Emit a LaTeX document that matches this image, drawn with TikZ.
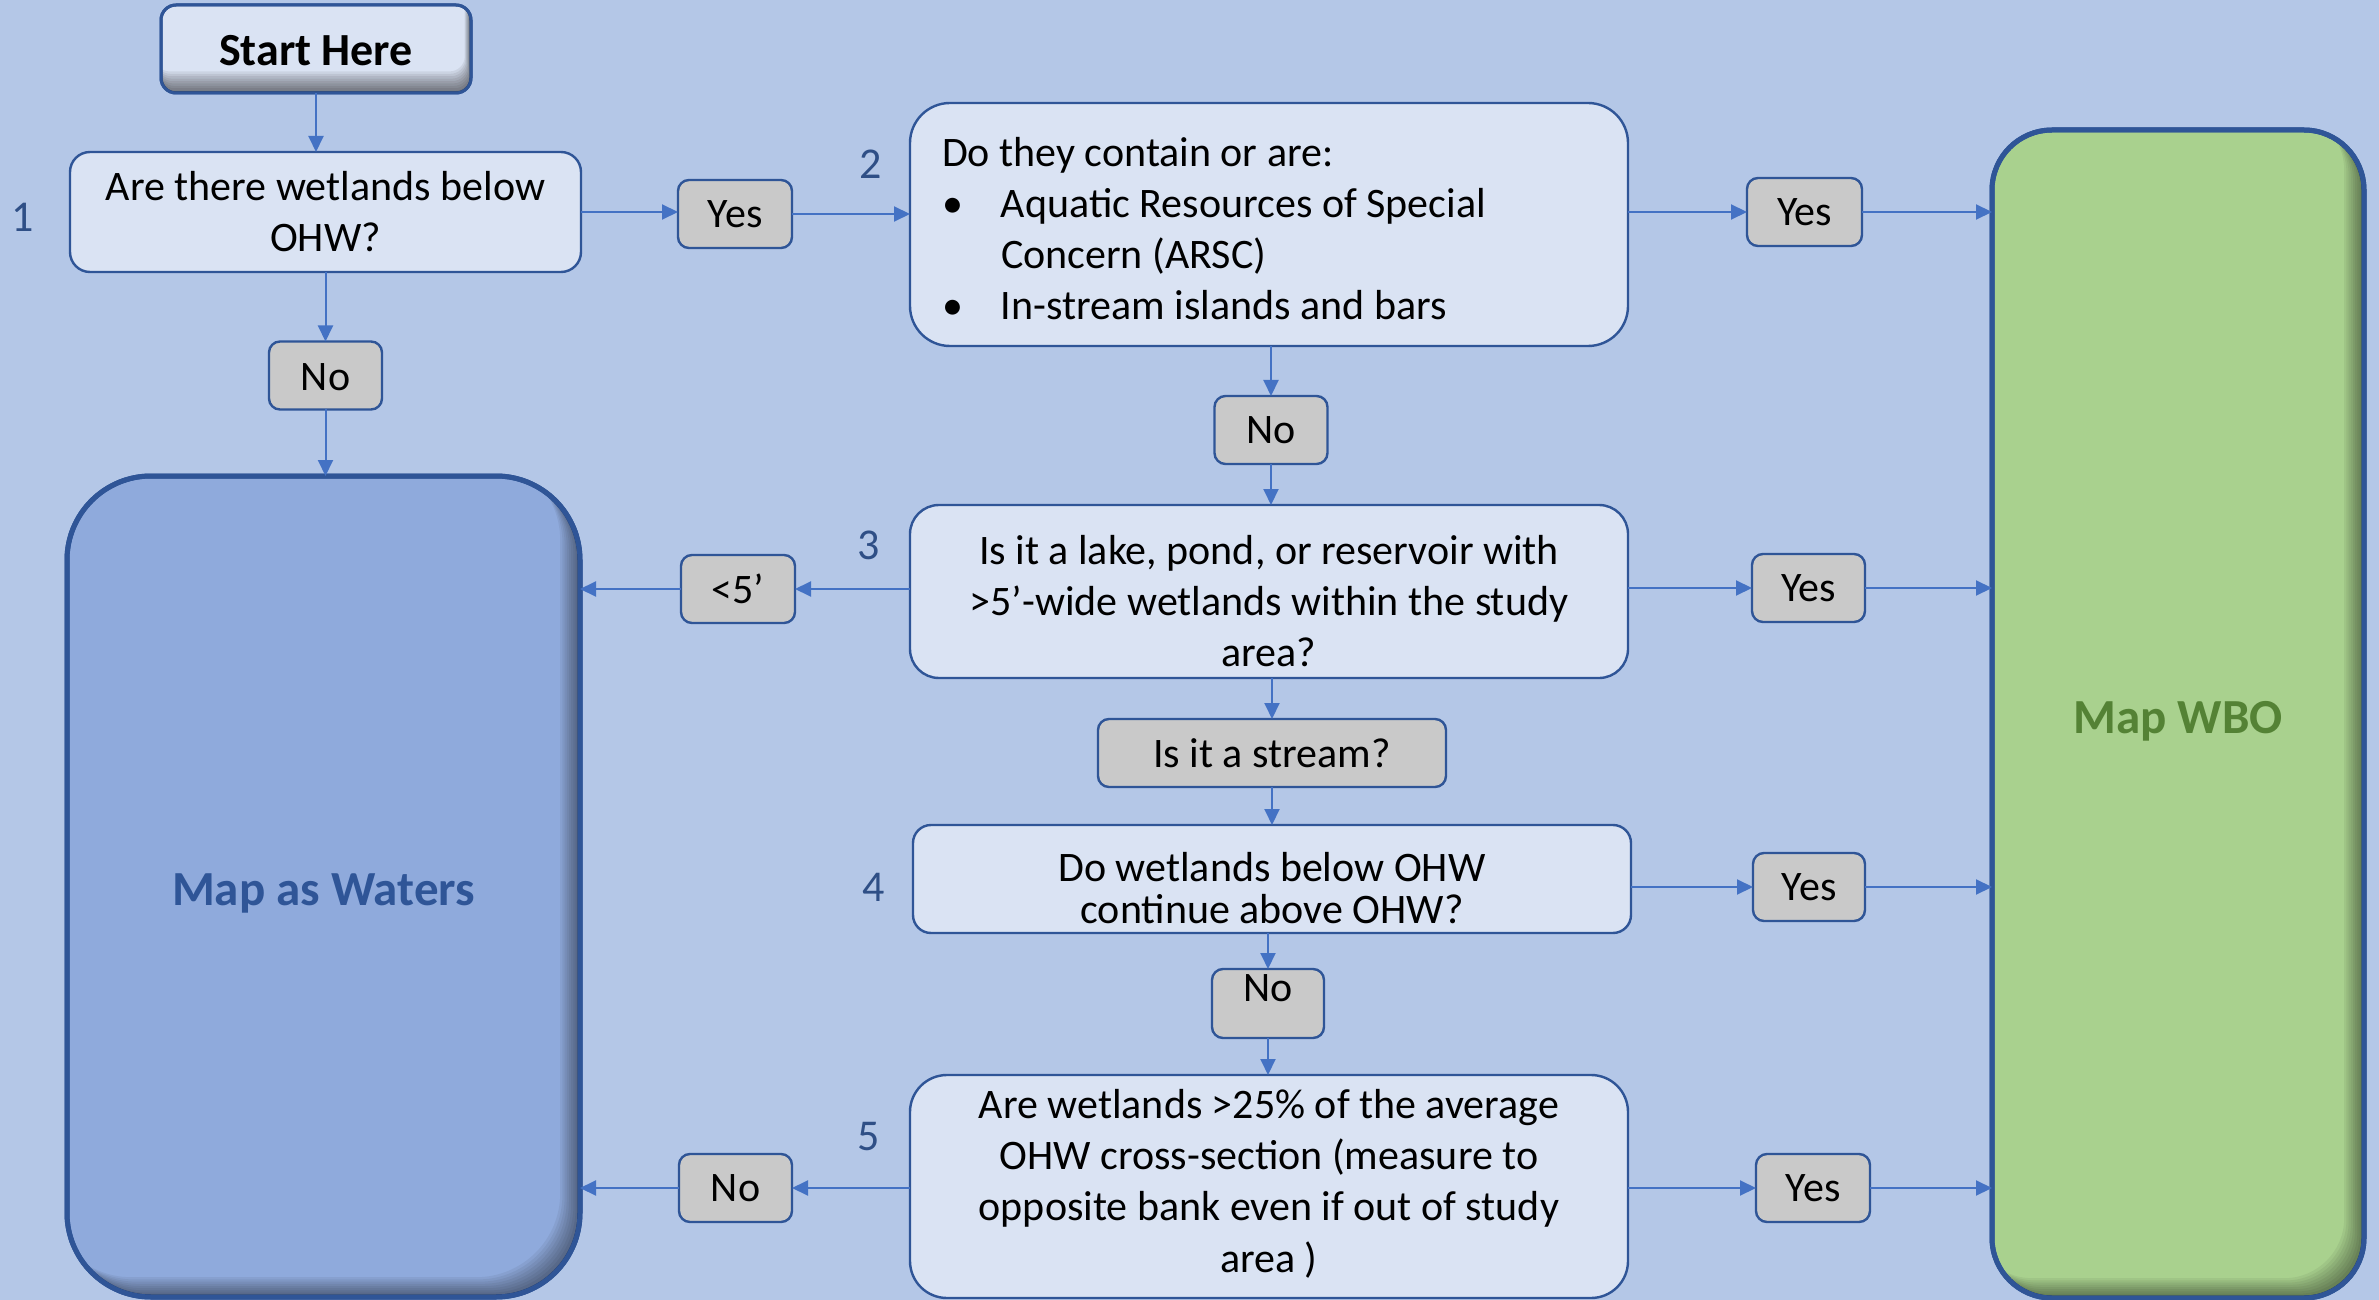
\documentclass[tikz,border=0pt]{standalone}
\usepackage{fontspec}
\setmainfont{Carlito}
\usetikzlibrary{arrows.meta}
\definecolor{bg}{HTML}{B4C7E7}
\definecolor{boxfill}{HTML}{DAE3F3}
\definecolor{bord}{HTML}{2F5597}
\definecolor{arr}{HTML}{4472C4}
\definecolor{lblfill}{HTML}{C9C9C9}
\definecolor{wfill}{HTML}{8FAADC}
\definecolor{gfill}{HTML}{A9D18E}
\definecolor{gtext}{HTML}{548235}
\definecolor{numc}{HTML}{2F4F86}
\newcommand{\shiftedtext}[2]{\raisebox{#1}[\height][\depth]{#2}}
\begin{document}
\begin{tikzpicture}[x=0.5pt,y=-0.5pt,
  every node/.style={outer sep=0pt, inner sep=0pt},
  qbox/.style={draw=bord, line width=1.2pt, fill=boxfill, align=center, font=\fontsize{21}{25.5}\selectfont},
  lab/.style={draw=bord, line width=1.2pt, fill=lblfill, rounded corners=5.5pt, font=\fontsize{21}{25}\selectfont, minimum height=34pt},
  num/.style={text=numc, font=\fontsize{22}{26}\selectfont},
  arrow/.style={draw=arr, line width=1pt, -{Triangle[length=8pt,width=7.5pt]}},
  mapbox/.style={draw=bord, line width=2.5pt, font=\bfseries\fontsize{24.5}{30}\selectfont}
]
\fill[bg] (0,0) rectangle (2379,1300);
\useasboundingbox (0,0) rectangle (2379,1300);

% nodes
\node[qbox, minimum width=155pt, minimum height=44pt, rounded corners=7.5pt, line width=1.5pt, font=\bfseries\fontsize{23}{28}\selectfont] (start) at (316,49) {\shiftedtext{-0.6pt}{Start Here}};
\node[qbox, minimum width=255.5pt, minimum height=60pt, rounded corners=10pt] (q1) at (325.5,212) {Are there wetlands below\\OHW?};
\node[num] (n1) at (23,217) {1};
\node[lab, minimum width=57pt] (y1) at (735,214) {Yes};
\node[qbox, minimum width=359pt, minimum height=121.5pt, rounded corners=20pt] (q2) at (1269,224.5)
  {\shiftedtext{-2.25pt}{\parbox{327pt}{\raggedright
   Do they contain or are:\\
   \makebox[29.5pt][l]{\textbullet}Aquatic Resources of Special\\
   \hspace*{29.5pt}Concern (ARSC)\\
   \makebox[29.5pt][l]{\textbullet}In-stream islands and bars}}};
\node[num] (n2) at (871,164) {2};
\node[lab, minimum width=57.5pt] (y2) at (1804.5,212) {Yes};
\node[mapbox, fill=gfill, text=gtext, minimum width=186pt, minimum height=584pt, rounded corners=30pt] (wbo) at (2178,714) {\shiftedtext{-3.5pt}{Map WBO}};
\node[lab, minimum width=56.5pt] (no1) at (325.5,375.5) {\shiftedtext{-0.8pt}{No}};
\node[mapbox, fill=wfill, text=bord, minimum width=256.5pt, minimum height=410.5pt, rounded corners=42pt] (waters) at (323.5,886.5) {\shiftedtext{-3.5pt}{Map as Waters}};
\node[lab, minimum width=56.5pt] (no2) at (1271,430) {No};
\node[qbox, minimum width=359pt, minimum height=86.5pt, rounded corners=14.5pt] (q3) at (1269,591.5)
  {\shiftedtext{-6.75pt}{\begin{tabular}{@{}c@{}}Is it a lake, pond, or reservoir with\\>5’-wide wetlands within the study\\area?\end{tabular}}};
\node[num] (n3) at (869,545) {3};
\node[lab, minimum width=57pt] (lt5) at (738,589) {<5’};
\node[lab, minimum width=56.5pt] (y3) at (1808.5,588) {Yes};
\node[lab, minimum width=174pt] (stream) at (1272,753) {Is it a stream?};
\node[qbox, minimum width=359pt, minimum height=54pt, rounded corners=9pt, font=\fontsize{21}{21}\selectfont] (q4) at (1272,879)
  {\shiftedtext{-7.75pt}{\begin{tabular}{@{}c@{}}Do wetlands below OHW\\continue above OHW?\end{tabular}}};
\node[num] (n4) at (874,887) {4};
\node[lab, minimum width=56pt] (y4) at (1809,887) {Yes};
\node[lab, minimum width=56pt, minimum height=34.5pt] (no3) at (1268,1003.5) {\raisebox{1pt}[0pt][0pt]{No}};
\node[qbox, minimum width=359pt, minimum height=111.5pt, rounded corners=18.5pt, font=\fontsize{21}{25.7}\selectfont] (q5) at (1269,1186.5)
  {\shiftedtext{0.75pt}{\begin{tabular}{@{}c@{}}Are wetlands >25\% of the average\\OHW cross-section (measure to\\opposite bank even if out of study\\area )\end{tabular}}};
\node[num] (n5) at (869,1137) {5};
\node[lab, minimum width=56.5pt] (no4) at (735.5,1188) {No};
\node[lab, minimum width=57pt] (y5) at (1813,1188) {Yes};

% inner shadows
\foreach \b/\r in {waters/42pt, wbo/30pt} {
  \begin{scope}
    \clip[rounded corners=\r] (\b.south west) rectangle (\b.north east);
    \foreach \k in {1,...,9}
      \fill[black, opacity=0.055, even odd rule, rounded corners=\r]
        (\b.south west) rectangle (\b.north east)
        ([shift={(-\k*1.1pt,\k*1.1pt)}]\b.south west) rectangle ([shift={(-\k*1.1pt,\k*1.1pt)}]\b.north east);
  \end{scope}
  \draw[draw=bord, line width=2.5pt, rounded corners=\r] (\b.south west) rectangle (\b.north east);
}
\begin{scope}
  \clip[rounded corners=7.5pt] (start.south west) rectangle (start.north east);
  \foreach \k in {1,...,9}
    \fill[black, opacity=0.065, even odd rule, rounded corners=7.5pt]
      (start.south west) rectangle (start.north east)
      ([shift={(-\k*0.35pt,\k*1.2pt)}]start.south west) rectangle ([shift={(-\k*0.35pt,\k*1.2pt)}]start.north east);
\end{scope}
\draw[draw=bord, line width=1.5pt, rounded corners=7.5pt] (start.south west) rectangle (start.north east);

% connectors
\draw[arrow] (start.south) -- (start.south |- q1.north);
\draw[arrow] (q1.south) -- (no1.north);
\draw[arrow] (no1.south) -- (no1.south |- waters.north);
\draw[arrow] (q1.east) -- (q1.east -| y1.west);
\draw[arrow] (y1.east) -- (y1.east -| q2.west);
\draw[arrow] (y2.west -| q2.east) -- (y2.west);
\draw[arrow] (y2.east) -- (y2.east -| wbo.west);
\draw[arrow] (no2.north |- q2.south) -- (no2.north);
\draw[arrow] (no2.south) -- (no2.south |- q3.north);
\draw[arrow] (lt5.east -| q3.west) -- (lt5.east);
\draw[arrow] (lt5.west) -- (lt5.west -| waters.east);
\draw[arrow] (y3.west -| q3.east) -- (y3.west);
\draw[arrow] (y3.east) -- (y3.east -| wbo.west);
\draw[arrow] (stream.north |- q3.south) -- (stream.north);
\draw[arrow] (stream.south) -- (stream.south |- q4.north);
\draw[arrow] (y4.west -| q4.east) -- (y4.west);
\draw[arrow] (y4.east) -- (y4.east -| wbo.west);
\draw[arrow] (no3.north |- q4.south) -- (no3.north);
\draw[arrow] (no3.south) -- (no3.south |- q5.north);
\draw[arrow] (no4.east -| q5.west) -- (no4.east);
\draw[arrow] (no4.west) -- (no4.west -| waters.east);
\draw[arrow] (y5.west -| q5.east) -- (y5.west);
\draw[arrow] (y5.east) -- (y5.east -| wbo.west);
\end{tikzpicture}
\end{document}
